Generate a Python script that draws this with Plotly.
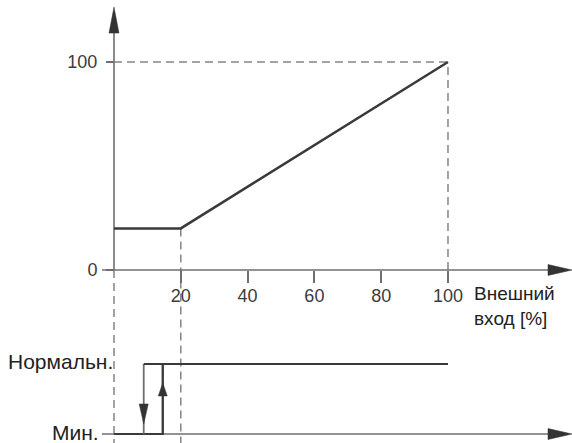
import plotly.graph_objects as go

# ---- data ----
ext_input = [0, 20, 100]          # external input [%]
output_pct = [20, 20, 100]        # output [%]
x_tickvals = [20, 40, 60, 80, 100]
y_tickvals = [0, 100]
state_labels = ["Мин.", "Нормальн."]   # state 0, state 1
switch_up = 14.6     # Мин. -> Нормальн. (rising input)
switch_down = 8.9    # Нормальн. -> Мин. (falling input)
x_title = "Внешний<br>вход [%]"

# ---- styles ----
AX = "#6e6e6e"
LINE = "#3a3a3a"
DASH = "#858585"
TXT = "#3c3c3c"
FONT = "Liberation Sans, Arial, sans-serif"

W, H = 572, 443
X_RANGE = [-34.13, 137.13]
Y_RANGE = [-83.17, 129.81]
Y2_RANGE = [-0.1286, 6.2]

fig = go.Figure()

# main transfer curve
fig.add_trace(go.Scatter(x=ext_input, y=output_pct, mode="lines",
                         line=dict(color=LINE, width=2.5), hoverinfo="skip"))

# hysteresis state lines
fig.add_trace(go.Scatter(x=[0, switch_up, switch_up], y=[0, 0, 1], yaxis="y2", mode="lines",
                         line=dict(color=LINE, width=2.2), hoverinfo="skip"))
fig.add_trace(go.Scatter(x=[switch_down, switch_down], y=[0, 1], yaxis="y2", mode="lines",
                         line=dict(color=AX, width=1.8), hoverinfo="skip"))
fig.add_trace(go.Scatter(x=[switch_down, ext_input[-1]], y=[1, 1], yaxis="y2", mode="lines",
                         line=dict(color=LINE, width=2.2), hoverinfo="skip"))

shapes = []
def seg(x0, y0, x1, y1, yref="y", color=AX, width=1.6, dash="solid"):
    shapes.append(dict(type="line", xref="x", yref=yref, x0=x0, y0=y0, x1=x1, y1=y1,
                       line=dict(color=color, width=width, dash=dash), layer="below"))

def head(x, y, path, yref="y"):
    shapes.append(dict(type="path", xref="x", yref=yref, xsizemode="pixel", ysizemode="pixel",
                       xanchor=x, yanchor=y, path=path, fillcolor="#333333",
                       line=dict(color="#333333", width=0.5)))

DP = "8px,5px"
xmax = ext_input[-1]
ymax = output_pct[-1]
# dashed guides
seg(0, ymax, xmax, ymax, color=DASH, width=1.5, dash=DP)
seg(xmax, 0, xmax, ymax, color=DASH, width=1.5, dash=DP)
seg(0, 0, 0, Y_RANGE[0], color=DASH, width=1.5, dash=DP)
seg(ext_input[1], output_pct[1], ext_input[1], Y_RANGE[0], color=DASH, width=1.5, dash=DP)

# axes lines
seg(-3.6, 0, 130.0, 0)
seg(0, 0, 0, 114.0)
seg(-3.6, 0, 130.0, 0, yref="y2")
seg(switch_up, 0, switch_up, 1, yref="y2", color=AX, width=1.8)

# arrow heads
head(X_RANGE[1], 0, "M0,0 L-24,5.5 L-24,-5.5 Z")
head(X_RANGE[1], 0, "M0,0 L-24,5.5 L-24,-5.5 Z", yref="y2")
head(0, 126.4, "M0,0 L-5,-26 L5,-26 Z")
head(switch_down, 0.143, "M0,0 L-4.5,20 L4.5,20 Z", yref="y2")
head(switch_up, 0.729, "M0,0 L-4.5,-13 L4.5,-13 Z", yref="y2")

annotations = [
    dict(x=107.2, y=-17.3, xref="x", yref="y", text=x_title, showarrow=False,
         xanchor="left", yanchor="middle", align="left",
         font=dict(family=FONT, size=19, color="#222222")),
    dict(x=0.4, y=1, xref="x", yref="y2", text=state_labels[1], showarrow=False,
         xanchor="right", yanchor="middle", yshift=3,
         font=dict(family=FONT, size=21, color="#222222")),
    dict(x=-4.0, y=0, xref="x", yref="y2", text=state_labels[0], showarrow=False,
         xanchor="right", yanchor="middle", yshift=2,
         font=dict(family=FONT, size=21, color="#222222")),
]

fig.update_layout(
    width=W, height=H, margin=dict(l=0, r=0, t=0, b=0),
    paper_bgcolor="white", plot_bgcolor="white", showlegend=False,
    shapes=shapes, annotations=annotations,
    xaxis=dict(range=X_RANGE, domain=[0, 1], anchor="free", position=83.17 / 212.98,
               showline=False, showgrid=False, zeroline=False,
               ticks="outside", tickvals=x_tickvals, ticklen=12, tickwidth=1.5, tickcolor=AX,
               ticklabelstandoff=-3,
               tickfont=dict(family=FONT, size=18, color=TXT), fixedrange=True),
    yaxis=dict(range=Y_RANGE, domain=[0, 1], anchor="free", position=114 / 572,
               showline=False, showgrid=False, zeroline=False,
               ticks="outside", tickvals=y_tickvals, ticklen=8, tickwidth=1.5, tickcolor=AX,
               ticklabelstandoff=5,
               tickfont=dict(family=FONT, size=18, color=TXT), fixedrange=True),
    yaxis2=dict(range=Y2_RANGE, overlaying="y", visible=False, fixedrange=True),
)

fig.write_html("out.html", config={"displayModeBar": False},
               post_script="document.body.style.margin='0';document.body.style.overflow='hidden';")
